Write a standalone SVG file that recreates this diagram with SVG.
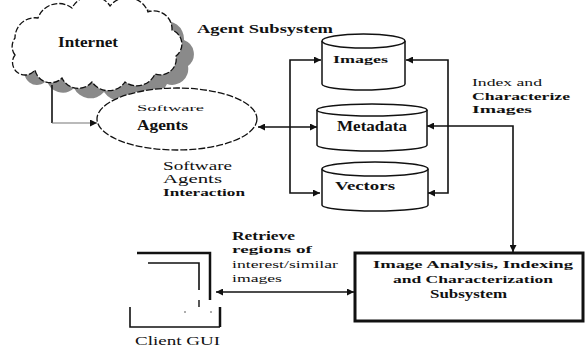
<svg xmlns="http://www.w3.org/2000/svg" width="585" height="352" viewBox="0 0 585 352">
<defs>
<style>
text{font-family:"Liberation Serif","Times New Roman",serif;fill:#111;}
.ln{fill:none;stroke:#111;stroke-width:1.6;}
.cyl{fill:#fff;stroke:#111;stroke-width:1.5;}
</style>
<marker id="ah" viewBox="0 0 10 10" refX="10" refY="5" markerWidth="9" markerHeight="7" markerUnits="userSpaceOnUse" orient="auto-start-reverse">
<path d="M0,0 L10,5 L0,10 Z" fill="#111"/>
</marker>
<path id="cloudp" d="M15,55 A14,14 0 0 1 15,38 A20,20 0 0 1 38,18 A22,22 0 0 1 72,8 A22,22 0 0 1 110,6 A22,22 0 0 1 148,12 A18,18 0 0 1 172,30 A15,15 0 0 1 176,56 A16,16 0 0 1 155,74 A20,20 0 0 1 125,82 A20,20 0 0 1 92,82 A18,18 0 0 1 62,78 A16,16 0 0 1 35,70 A12,12 0 0 1 15,55 Z"/>
</defs>
<rect width="585" height="352" fill="#fff"/>

<g id="internet">
<use href="#cloudp" transform="translate(12,10)" fill="#8a8a8a"/>
<use href="#cloudp" fill="#fff" stroke="#111" stroke-width="1.3" stroke-dasharray="6,2"/>
<text x="58" y="47" font-size="15" font-weight="bold" textLength="60" lengthAdjust="spacingAndGlyphs">Internet</text>
</g>

<text x="197" y="33" font-size="13" font-weight="bold" textLength="136" lengthAdjust="spacingAndGlyphs">Agent Subsystem</text>

<g id="agents">
<ellipse cx="177" cy="119" rx="80" ry="31" fill="#fff" stroke="#111" stroke-width="1.3" stroke-dasharray="7,2"/>
<text x="137" y="111" font-size="9" textLength="67" lengthAdjust="spacingAndGlyphs">Software</text>
<text x="137" y="130" font-size="14" font-weight="bold" textLength="51" lengthAdjust="spacingAndGlyphs">Agents</text>
</g>

<g id="images">
<path class="cyl" d="M322,41 V84 A41.5,6 0 0 0 405,84 V41"/>
<ellipse class="cyl" cx="363.5" cy="41" rx="41.5" ry="7"/>
<text x="333" y="63" font-size="11" font-weight="bold" textLength="55" lengthAdjust="spacingAndGlyphs">Images</text>
</g>

<g id="metadata">
<path class="cyl" d="M317,110 V145 A55,6 0 0 0 427,145 V110"/>
<ellipse class="cyl" cx="372" cy="110" rx="55" ry="6"/>
<text x="337" y="131" font-size="14" font-weight="bold" textLength="70" lengthAdjust="spacingAndGlyphs">Metadata</text>
</g>

<g id="vectors">
<path class="cyl" d="M322,169 V205 A53,6 0 0 0 428,205 V169"/>
<ellipse class="cyl" cx="375" cy="169" rx="53" ry="7"/>
<text x="335" y="190" font-size="12" font-weight="bold" textLength="60" lengthAdjust="spacingAndGlyphs">Vectors</text>
</g>

<g id="subsystem">
<rect x="355" y="253" width="228" height="68" fill="#fff" stroke="#111" stroke-width="3"/>
<text x="373" y="268" font-size="11" font-weight="bold" textLength="200" lengthAdjust="spacingAndGlyphs">Image Analysis, Indexing</text>
<text x="393" y="283" font-size="11" font-weight="bold" textLength="160" lengthAdjust="spacingAndGlyphs">and Characterization</text>
<text x="430" y="298" font-size="13" font-weight="bold" textLength="77" lengthAdjust="spacingAndGlyphs">Subsystem</text>
</g>

<g id="client">
<path d="M137,253 H210 V300" fill="none" stroke="#111" stroke-width="2.5"/>
<path d="M148,263 H199 V290" fill="none" stroke="#111" stroke-width="1.6"/>
<path d="M199,300 V307" fill="none" stroke="#111" stroke-width="1.4"/>
<circle cx="185" cy="312" r="0.8" fill="#444"/>
<circle cx="211" cy="312" r="0.8" fill="#444"/>
<path d="M130,307 V327 H220" fill="none" stroke="#111" stroke-width="1.6"/>
<path d="M220,327 V307" fill="none" stroke="#111" stroke-width="2.5"/>
<text x="135" y="345" font-size="12" textLength="85" lengthAdjust="spacingAndGlyphs">Client GUI</text>
</g>

<g id="labels">
<text x="472" y="86" font-size="11" textLength="70" lengthAdjust="spacingAndGlyphs">Index and</text>
<text x="472" y="100" font-size="11" font-weight="bold" textLength="98" lengthAdjust="spacingAndGlyphs">Characterize</text>
<text x="472" y="113" font-size="11" font-weight="bold" textLength="60" lengthAdjust="spacingAndGlyphs">Images</text>
<text x="163" y="170" font-size="12" textLength="69" lengthAdjust="spacingAndGlyphs">Software</text>
<text x="163" y="183" font-size="12" textLength="59" lengthAdjust="spacingAndGlyphs">Agents</text>
<text x="163" y="196" font-size="11" font-weight="bold" textLength="82" lengthAdjust="spacingAndGlyphs">Interaction</text>
<text x="232" y="240" font-size="12" font-weight="bold" textLength="63" lengthAdjust="spacingAndGlyphs">Retrieve</text>
<text x="232" y="253" font-size="11" font-weight="bold" textLength="80" lengthAdjust="spacingAndGlyphs">regions of</text>
<text x="232" y="268" font-size="11" textLength="106" lengthAdjust="spacingAndGlyphs">interest/similar</text>
<text x="232" y="282" font-size="11" textLength="50" lengthAdjust="spacingAndGlyphs">images</text>
</g>

<g id="connectors">
<path d="M52,85 V123" class="ln" stroke-width="2"/>
<path d="M52,123 H97" fill="none" stroke="#777" stroke-width="1.2" marker-end="url(#ah)"/>
<path d="M258,127 H317" class="ln" stroke-width="1.2" marker-start="url(#ah)" marker-end="url(#ah)"/>
<path d="M321,60 H290 V193 H320" class="ln" marker-start="url(#ah)" marker-end="url(#ah)"/>
<path d="M406,60 H448 V193 H428" class="ln" marker-start="url(#ah)" marker-end="url(#ah)"/>
<path d="M427,126 H513 V252" class="ln" stroke-width="2" marker-start="url(#ah)" marker-end="url(#ah)"/>
<path d="M216,292 H354" class="ln" stroke-width="1.4" marker-start="url(#ah)" marker-end="url(#ah)"/>
</g>
</svg>
